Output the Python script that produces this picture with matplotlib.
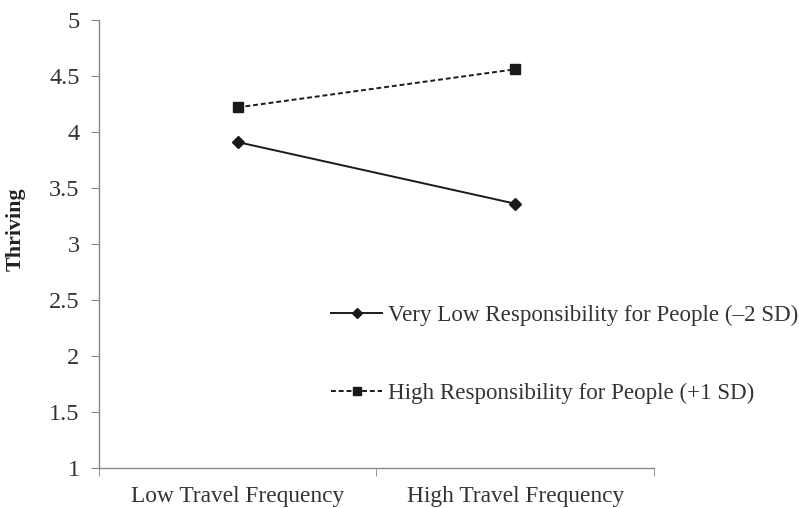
import matplotlib.pyplot as plt
import numpy as np

categories = ['Low Travel Frequency', 'High Travel Frequency']
very_low_resp = [3.91, 3.36]
high_resp = [4.22, 4.56]
labels = ['Very Low Responsibility for People (\u20132 SD)',
          'High Responsibility for People (+1 SD)']

plt.rcParams['font.family'] = ['Liberation Serif', 'DejaVu Serif']

fig = plt.figure(figsize=(7.99, 5.08), dpi=100)
ax = fig.add_axes([0.1239, 0.0787, 0.8185 - 0.1239, 0.9606 - 0.0787])

x = np.arange(len(categories))
ax.plot(x, very_low_resp, color='#1a1a1a', lw=1.4, marker='D', ms=6.5,
        label=labels[0])
ax.plot(x, high_resp, color='#1a1a1a', lw=1.4, ls=(0, (2.5, 1.5)), marker='s',
        ms=7.5, label=labels[1])

ax.set_xlim(-0.5, 1.5)
ax.set_ylim(1, 5)
ax.set_yticks(np.arange(1, 5.01, 0.5))
ax.set_yticklabels(['1', '1.5', '2', '2.5', '3', '3.5', '4', '4.5', '5'])
ax.set_xticks(x)
ax.set_xticklabels(categories)
ax.set_xticks([-0.5, 0.5, 1.5], minor=True)
ax.tick_params(axis='x', which='major', length=0, pad=13, labelsize=16.8,
               colors='#333333')
ax.tick_params(axis='x', which='minor', length=6, color='#888888')
ax.tick_params(axis='y', length=6, color='#888888', labelsize=17.5, pad=8,
               labelcolor='#333333')
for s in ['top', 'right']:
    ax.spines[s].set_visible(False)
for s in ['left', 'bottom']:
    ax.spines[s].set_color('#888888')
    ax.spines[s].set_linewidth(1.0)

ax.set_ylabel('Thriving', fontsize=15.8, fontweight='bold', color='#222222')
ax.yaxis.set_label_coords(-0.1315, 0.533)

fig.legend(loc='upper left', bbox_to_anchor=(0.3885, 0.441), frameon=False,
           fontsize=16.6, labelspacing=2.48, handlelength=2.2,
           handletextpad=0.26, markerscale=0.8, labelcolor='#333333')

fig.savefig('out.png', dpi=100)
